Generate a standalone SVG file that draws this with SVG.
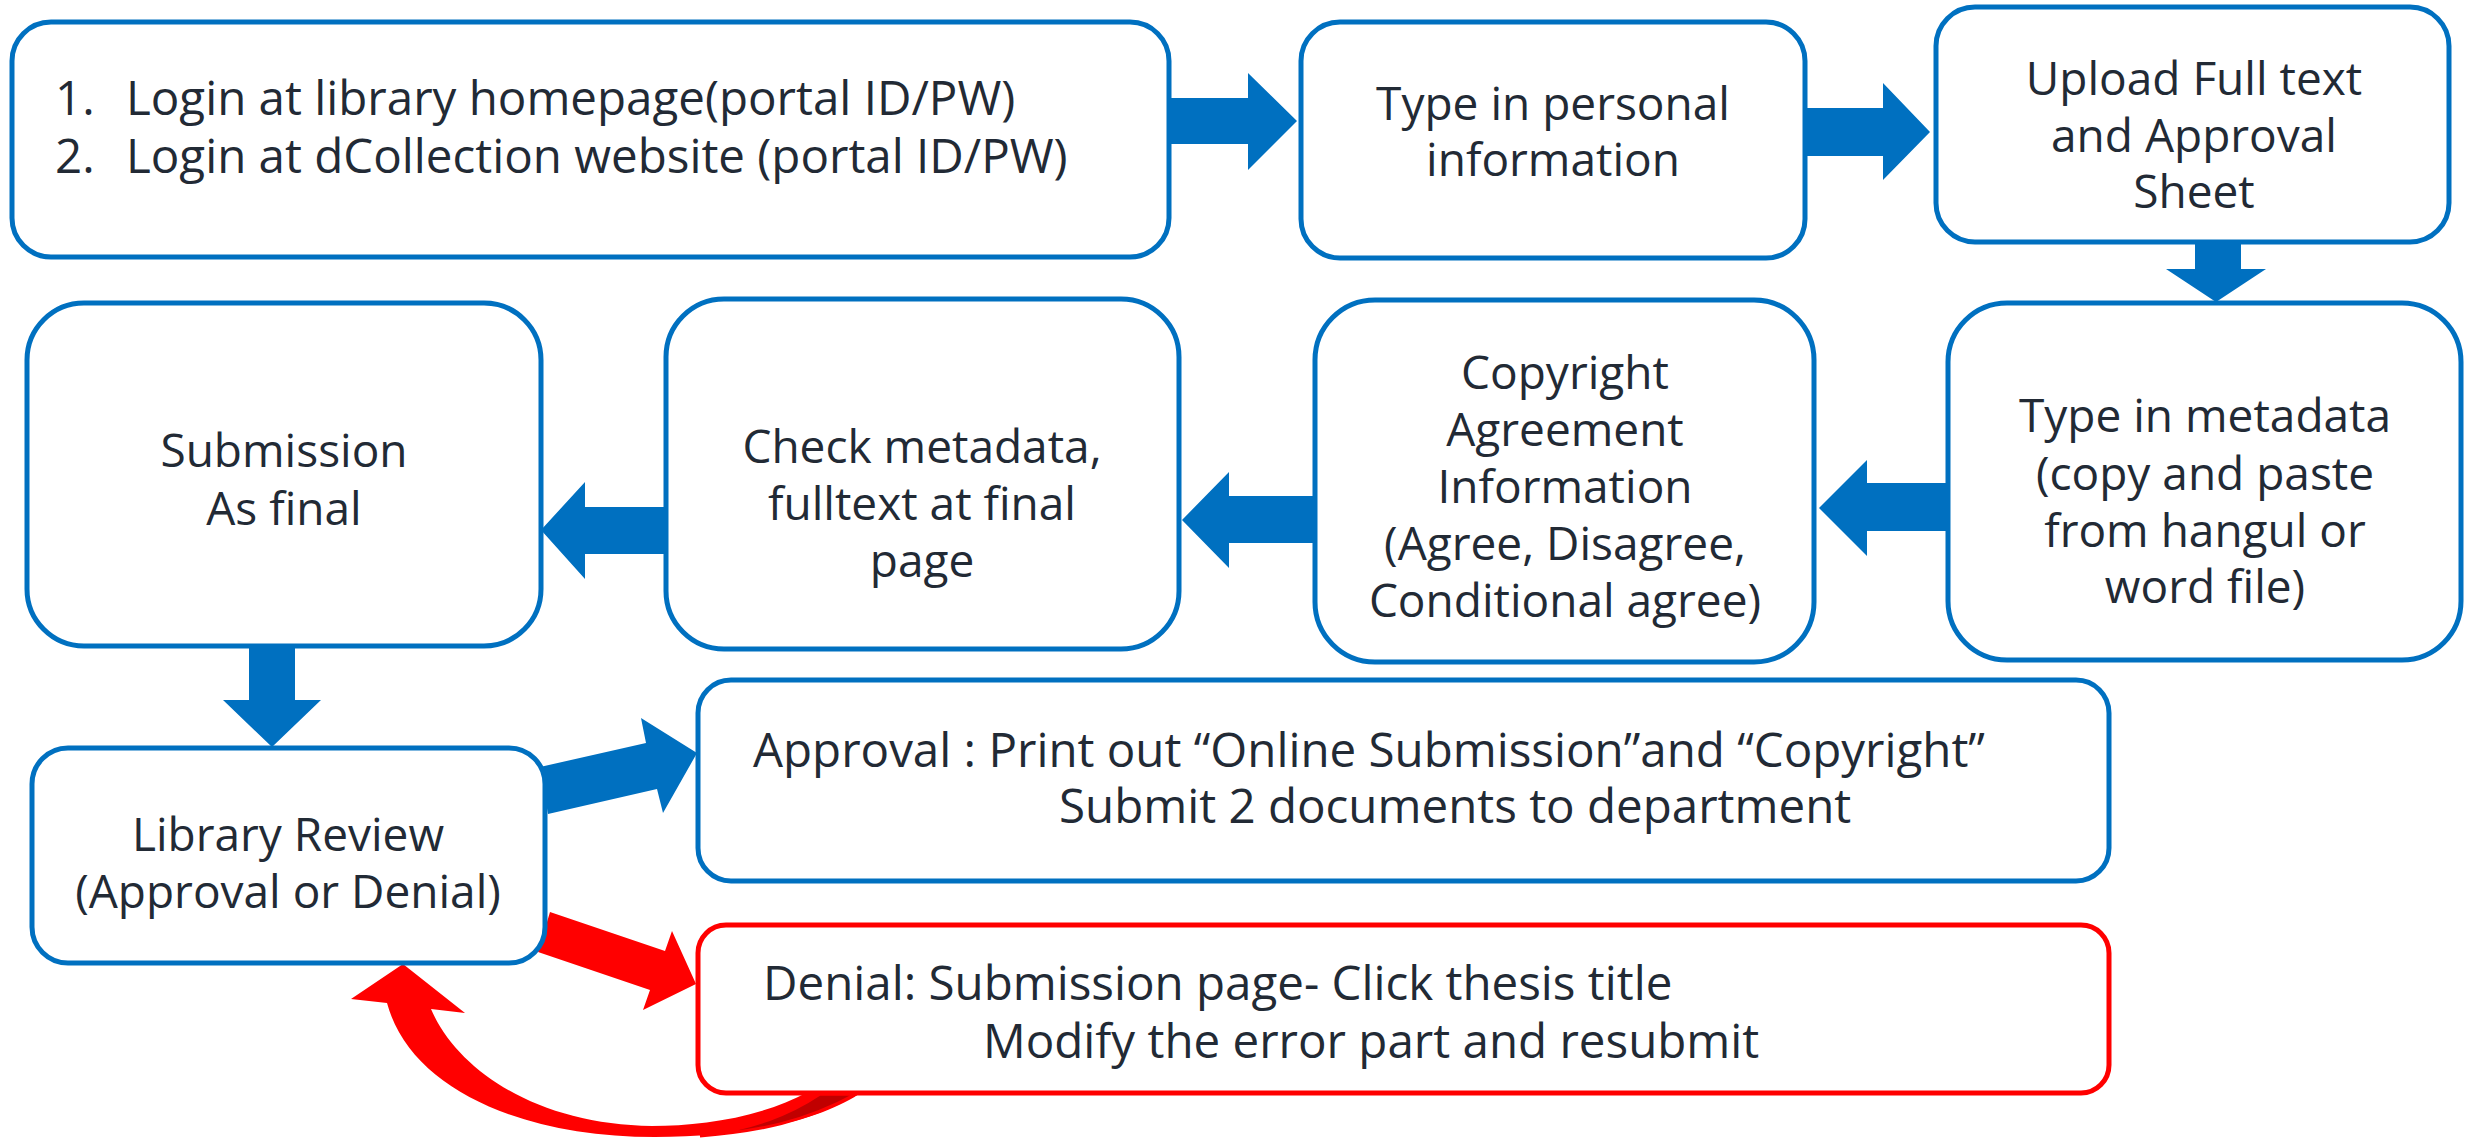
<svg xmlns="http://www.w3.org/2000/svg" width="2475" height="1138" viewBox="0 0 2475 1138">
<style>
.box{fill:#fff;stroke:#0070C0;stroke-width:5}
.rbox{fill:#fff;stroke:#FF0000;stroke-width:5}
.t{font-family:"Open Sans","Noto Sans",sans-serif;font-size:46px;fill:#222A35}
.w{font-size:47.5px}
.c{text-anchor:middle}
.ba{fill:#0070C0}
.ra{fill:#FF0000}
</style>
<rect width="2475" height="1138" fill="#fff"/>
<g id="connectors">
  <polygon class="ba" points="1165,98 1248,98 1248,73 1297,121 1248,170 1248,144 1165,144"/>
  <polygon class="ba" points="1800,108 1883,108 1883,83 1930,132 1883,180 1883,156 1800,156"/>
  <polygon class="ba" points="2195,238 2241,238 2241,269 2266,269 2216,302 2166,269 2195,269"/>
  <polygon class="ba" points="1952,483 1867,483 1867,460 1819,508 1867,556 1867,531 1952,531"/>
  <polygon class="ba" points="1318,496 1229,496 1229,472 1182,520 1229,568 1229,543 1318,543"/>
  <polygon class="ba" points="670,507 585,507 585,482 541,530 585,579 585,554 670,554"/>
  <polygon class="ba" points="249,640 295,640 295,700 321,700 272,747 223,700 249,700"/>
  <polygon class="ba" points="540,767 646,743 641,718 697,753 663,813 657,789 548,814"/>
  <polygon class="ra" points="550,912 665,951 672,931 696,984 643,1010 650,990 538,952"/>
  <path class="ra" d="M387,1003 C410,1088 520,1137 655,1137 C760,1137 830,1115 862,1092 L808,1092 C760,1118 700,1126 652,1126 C540,1125 458,1072 431,1009 L465,1013 L403,964 L351,999 Z"/>
  <path fill="#C00000" stroke="#FF0000" stroke-width="3" d="M820,1094 L856,1094 C805,1122 760,1131 700,1136 C755,1128 790,1114 820,1094 Z"/>
</g>
<g id="n1">
  <rect class="box" x="12" y="22" width="1157" height="235" rx="39"/>
  <text class="t w"><tspan x="55" y="115">1.</tspan><tspan x="126" y="115">Login at library homepage(portal ID/PW)</tspan><tspan x="55" y="173">2.</tspan><tspan x="126" y="173">Login at dCollection website (portal ID/PW)</tspan></text>
</g>
<g id="n2">
  <rect class="box" x="1301" y="22" width="504" height="236" rx="39"/>
  <text class="t c"><tspan x="1553" y="120">Type in personal</tspan><tspan x="1553" y="176">information</tspan></text>
</g>
<g id="n3">
  <rect class="box" x="1936" y="7" width="513" height="235" rx="39"/>
  <text class="t c"><tspan x="2194" y="95">Upload Full text</tspan><tspan x="2194" y="152">and Approval</tspan><tspan x="2194" y="208">Sheet</tspan></text>
</g>
<g id="n4">
  <rect class="box" x="1948" y="303" width="513" height="357" rx="59"/>
  <text class="t c"><tspan x="2205" y="432">Type in metadata</tspan><tspan x="2205" y="490">(copy and paste</tspan><tspan x="2205" y="547">from hangul or</tspan><tspan x="2205" y="603">word file)</tspan></text>
</g>
<g id="n5">
  <rect class="box" x="1315" y="300" width="499" height="362" rx="60"/>
  <text class="t c"><tspan x="1565" y="389">Copyright</tspan><tspan x="1565" y="446">Agreement</tspan><tspan x="1565" y="503">Information</tspan><tspan x="1565" y="560">(Agree, Disagree,</tspan><tspan x="1565" y="617">Conditional agree)</tspan></text>
</g>
<g id="n6">
  <rect class="box" x="666" y="299" width="513" height="350" rx="58"/>
  <text class="t c"><tspan x="922" y="463">Check metadata,</tspan><tspan x="922" y="520">fulltext at final</tspan><tspan x="922" y="577">page</tspan></text>
</g>
<g id="n7">
  <rect class="box" x="27" y="303" width="514" height="343" rx="57"/>
  <text class="t c"><tspan x="284" y="467">Submission</tspan><tspan x="284" y="525">As final</tspan></text>
</g>
<g id="n8">
  <rect class="box" x="32" y="748" width="513" height="215" rx="36"/>
  <text class="t c"><tspan x="288" y="851">Library Review</tspan><tspan x="288" y="908">(Approval or Denial)</tspan></text>
</g>
<g id="n9">
  <rect class="box" x="698" y="680" width="1411" height="201" rx="33"/>
  <text class="t w"><tspan x="753" y="767">Approval : Print out “Online Submission”and “Copyright”</tspan><tspan x="1059" y="823">Submit 2 documents to department</tspan></text>
</g>
<g id="n10">
  <rect class="rbox" x="698" y="925" width="1411" height="168" rx="28"/>
  <text class="t w"><tspan x="763" y="1000">Denial: Submission page- Click thesis title</tspan><tspan x="983" y="1058">Modify the error part and resubmit</tspan></text>
</g>
</svg>
